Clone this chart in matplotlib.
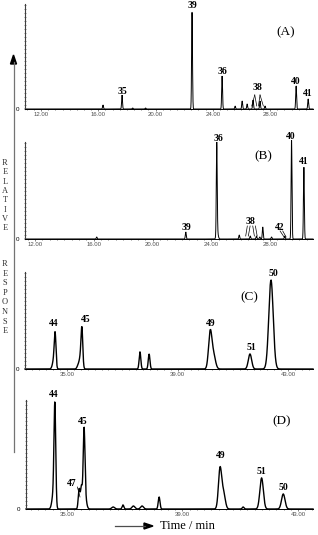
import numpy as np
import matplotlib
matplotlib.use("Agg")
import matplotlib.pyplot as plt

W, H = 318, 535

# ---------------- data ----------------
# Panel A
a_times = [16.33, 17.66, 18.4, 19.3, 22.55, 24.65, 25.56, 26.05, 26.40, 26.81, 27.30, 27.65, 29.82, 30.66]
a_heights = [4, 14, 1, 1, 97, 33, 3, 8, 5, 9, 8, 3, 23, 10]
a_widths = [0.03] * len(a_times)
a_ticks = [12.0, 16.0, 20.0, 24.0, 28.0]
a_labels = ["35", "39", "36", "38", "40", "41"]

# Panel B
b_times = [16.2, 22.26, 24.37, 24.40, 25.9, 26.65, 27.07, 27.3, 27.5, 28.1, 29.0, 29.46, 30.30]
b_heights = [2, 7, 90, 8, 4, 3, 3, 2, 12, 2, 3, 99, 72]
b_widths = [0.03, 0.03, 0.03, 0.06, 0.03, 0.03, 0.03, 0.03, 0.03, 0.03, 0.03, 0.03, 0.03]
b_ticks = [12.0, 16.0, 20.0, 24.0, 28.0]
b_labels = ["39", "36", "38", "42", "40", "41"]

# Panel C
c_times = [34.53, 34.57, 35.40, 35.50, 35.54, 37.64, 37.97, 40.18, 40.30, 41.62, 42.38]
c_heights = [10, 30, 3, 14, 32, 17, 15, 36, 14, 15, 89]
c_widths = [0.05, 0.03, 0.04, 0.05, 0.03, 0.03, 0.03, 0.06, 0.07, 0.06, 0.08]
c_ticks = [35.0, 39.0, 43.0]
c_labels = ["44", "45", "49", "51", "50"]

# Panel D
d_times = [34.53, 34.58, 35.42, 35.50, 35.59, 35.62, 36.6, 36.94, 37.3, 37.6, 38.19, 40.30, 40.42, 41.1, 41.74, 42.49]
d_heights = [15, 98, 20, 22, 70, 14, 2, 4, 3, 3, 12, 40, 16, 2, 31, 15]
d_widths = [0.05, 0.03, 0.03, 0.03, 0.03, 0.05, 0.05, 0.03, 0.05, 0.05, 0.03, 0.055, 0.06, 0.03, 0.06, 0.06]
d_ticks = [35.0, 39.0, 43.0]
d_labels = ["44", "45", "47", "49", "51", "50"]

# ---------------- layout ----------------
fig = plt.figure(figsize=(W / 100, H / 100), dpi=100)
fig.patch.set_facecolor("white")

SERIF = ["Liberation Serif", "DejaVu Serif"]
SANS = ["Liberation Sans", "DejaVu Sans"]


def axes_px(left, right, top, base):
    return fig.add_axes([left / W, 1 - base / H, (right - left) / W, (base - top) / H])


def trace(ax, xlim, times, heights, widths, lw):
    t = np.linspace(xlim[0], xlim[1], 4000)
    y = np.zeros_like(t)
    for t0, h, s in zip(times, heights, widths):
        y += h * np.exp(-0.5 * ((t - t0) / s) ** 2)
    ax.plot(t, y, color="black", lw=lw, clip_on=False, solid_joinstyle="miter")


def style(ax, xlim, ymax, ticks, minor_step):
    ax.set_xlim(*xlim)
    ax.set_ylim(0, ymax)
    for s in ("top", "right"):
        ax.spines[s].set_visible(False)
    ax.spines["left"].set_linewidth(0.8)
    ax.spines["left"].set_color("0.25")
    ax.spines["bottom"].set_linewidth(0.7)
    ax.set_xticks(ticks)
    ax.set_xticklabels(["%.2f" % v for v in ticks], fontsize=4.3, family=SANS, color="0.2")
    ax.set_xticks(np.arange(np.ceil(xlim[0] / minor_step) * minor_step, xlim[1], minor_step), minor=True)
    ax.tick_params(axis="x", which="major", length=1.5, width=0.5, pad=0.8, colors="0.3")
    ax.tick_params(axis="x", which="minor", length=1.0, width=0.5, colors="0.3")
    ax.set_yticks([0])
    ax.set_yticklabels(["0"], fontsize=4.5, family=SANS)
    ax.set_yticks(np.arange(4, ymax, 4), minor=True)
    ax.tick_params(axis="y", which="major", length=0, pad=4)
    ax.tick_params(axis="y", which="minor", length=1.6, width=0.5, direction="inout", colors="0.35")
    ax.patch.set_alpha(0)


def label(ax, text, x, y, size=7):
    ax.text(x, y, text, ha="center", va="center", fontsize=size, family=SERIF,
            fontweight="bold", clip_on=False)


def leader(ax, segs):
    for (x0, y0), (x1, y1) in segs:
        ax.plot([x0, x1], [y0, y1], color="black", lw=0.5, clip_on=False)


# Panel A
xa = (10.88, 31.0)
axA = axes_px(25, 313, 4, 109)
style(axA, xa, 105, a_ticks, 0.5)
trace(axA, xa, a_times, a_heights, a_widths, 0.7)
for txt, pos in zip(a_labels, [(17.66, 18), (22.55, 104), (24.65, 38), (27.09, 21), (29.82, 28), (30.66, 16)]):
    label(axA, txt, *pos)
leader(axA, [((26.93, 14), (26.72, 3)), ((26.93, 14), (27.07, 3)),
             ((27.30, 14), (27.19, 3)), ((27.30, 14), (27.53, 3))])
axA.text(29.12, 77, "(A)", ha="center", va="center", fontsize=9.5, family=SERIF)

# Panel B
xb = (11.32, 30.92)
axB = axes_px(25, 313, 142, 239)
style(axB, xb, 97, b_ticks, 0.5)
trace(axB, xb, b_times, b_heights, b_widths, 0.7)
for txt, pos in zip(b_labels, [(22.28, 11), (24.5, 101), (26.70, 18), (28.68, 12), (29.41, 103), (30.31, 78)]):
    label(axB, txt, *pos)
leader(axB, [((26.45, 13), (26.34, 3)), ((26.64, 13), (26.52, 3)),
             ((26.82, 13), (26.93, 3)), ((27.0, 13), (27.12, 3)),
             ((28.68, 8), (28.95, 2)), ((28.86, 8), (29.09, 2))])
axB.text(27.52, 83, "(B)", ha="center", va="center", fontsize=9.5, family=SERIF)

# Panel C
xc = (33.48, 43.9)
axC = axes_px(25, 313, 272, 369)
style(axC, xc, 97, c_ticks, 0.25)
trace(axC, xc, c_times, c_heights, c_widths, 1.0)
for txt, pos in zip(c_labels, [(34.53, 46), (35.68, 50), (40.21, 46), (41.66, 22), (42.46, 95)]):
    label(axC, txt, *pos)
axC.text(41.59, 72, "(C)", ha="center", va="center", fontsize=9.5, family=SERIF)

# Panel D
xd = (33.58, 43.52)
axD = axes_px(26, 313, 400, 509)
style(axD, xd, 109, d_ticks, 0.25)
trace(axD, xd, d_times, d_heights, d_widths, 1.0)
for txt, pos in zip(d_labels, [(34.52, 114), (35.56, 88), (35.17, 26), (40.33, 54), (41.75, 37), (42.48, 22)]):
    label(axD, txt, *pos)
leader(axD, [((35.36, 22), (35.45, 12))])
axD.text(42.45, 88, "(D)", ha="center", va="center", fontsize=9.5, family=SERIF)

# vertical "RELATIVE RESPONSE" arrow
fig.add_artist(plt.Line2D([13.5 / W, 13.5 / W], [1 - 452 / H, 1 - 62 / H], color="0.45", lw=0.9))
fig.patches.append(plt.Polygon([[13.5 / W, 1 - 55 / H], [10.5 / W, 1 - 64 / H], [16.5 / W, 1 - 64 / H]],
                               closed=True, color="black", transform=fig.transFigure, figure=fig))
for i, ch in enumerate("RELATIVE"):
    fig.text(5 / W, 1 - (163 + 9.3 * i) / H, ch, ha="center", va="center", fontsize=6, family=SERIF, color="0.2")
for i, ch in enumerate("RESPONSE"):
    fig.text(5 / W, 1 - (264 + 9.6 * i) / H, ch, ha="center", va="center", fontsize=6, family=SERIF, color="0.2")

# time arrow
fig.add_artist(plt.Line2D([115 / W, 145 / W], [1 - 526 / H, 1 - 526 / H], color="0.3", lw=0.9))
fig.patches.append(plt.Polygon([[153 / W, 1 - 526 / H], [144 / W, 1 - 523 / H], [144 / W, 1 - 529 / H]],
                               closed=True, color="black", transform=fig.transFigure, figure=fig))
fig.text(160 / W, 1 - 526 / H, "Time / min", ha="left", va="center", fontsize=9, family=SERIF)

fig.savefig("out.png", dpi=100)
